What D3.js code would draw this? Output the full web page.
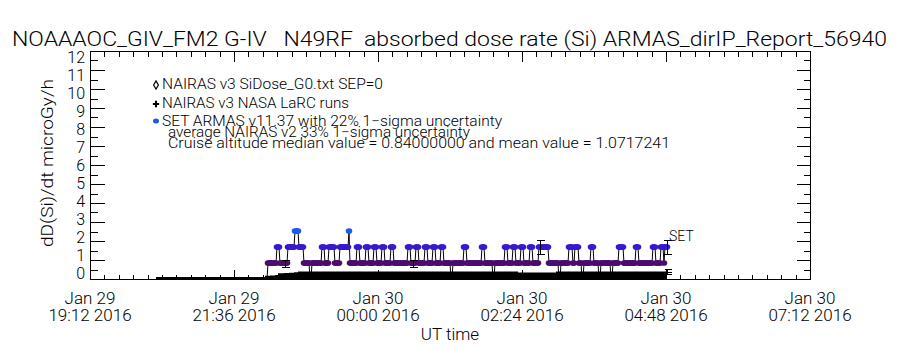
<!DOCTYPE html>
<html><head><meta charset="utf-8">
<script src="https://cdn.jsdelivr.net/npm/d3@7"></script>
<style>
body{margin:0;background:#fff}
svg{display:block}
text{font-family:Roboto,"DejaVu Sans",sans-serif;font-weight:300;fill:#000}
</style>
</head><body>
<svg id="c" width="900" height="350"></svg>
<script>
// ---------- text ----------
const titleText = "NOAAAOC_GIV_FM2 G-IV   N49RF  absorbed dose rate (Si) ARMAS_dirIP_Report_56940";
const yAxisTitle = "dD(Si)/dt microGy/h";
const xAxisTitle = "UT time";
const legendLabels = ["NAIRAS v3 SiDose_G0.txt SEP=0", "NAIRAS v3 NASA LaRC runs", "SET ARMAS v11.37 with 22% 1\u2212sigma uncertainty"];
const noteLines = ["average NAIRAS v2 33% 1\u2212sigma uncertainty", "Cruise altitude median value = 0.84000000 and mean value = 1.0717241"];
const seriesTag = "SET";

// ---------- axes ----------
const yTicks = [0,1,2,3,4,5,6,7,8,9,10,11,12];
const xDomain = ["2016-01-29T19:12", "2016-01-30T07:12"];
const xTickTimes = ["2016-01-29T19:12","2016-01-29T21:36","2016-01-30T00:00","2016-01-30T02:24","2016-01-30T04:48","2016-01-30T07:12"];
const xTickLine1 = ["Jan 29","Jan 29","Jan 30","Jan 30","Jan 30","Jan 30"];
const xTickLine2 = ["19:12 2016","21:36 2016","00:00 2016","02:24 2016","04:48 2016","07:12 2016"];

// ---------- NAIRAS v3 SiDose (step values, clock time UT) ----------
const nairasTimes  = ["20:18","22:05","22:07","22:12","22:17","22:20","22:26","22:31","22:36","22:40","02:20","02:58","04:49"];
const nairasValues = [0.10, 0.10, 0.17, 0.19, 0.21, 0.30, 0.31, 0.33, 0.36, 0.39, 0.34, 0.39, 0.39];
const nairasErrTimes = ["04:49"];

// ---------- SET ARMAS (1-min samples; base value with read-off exceptions) ----------
const armasStart = "22:09", armasEnd = "04:49";
const armasBaseValue = 0.84;
const armasRunStart = ["22:09","22:19","22:30","22:37","22:41","22:52","23:04","23:11","23:22","23:31","23:39","23:48","23:56","00:04","00:13","00:30","00:38","00:47","00:55","01:03","01:13","01:26","01:44","01:55","02:07","02:15","02:23","02:32","02:41","03:01","03:11","03:17","03:24","03:33","03:41","03:53","04:01","04:18","04:35","04:43","04:47"];
const armasRunEnd   = ["22:09","22:21","22:36","22:40","22:45","22:53","23:06","23:16","23:30","23:31","23:41","23:50","23:58","00:06","00:15","00:32","00:40","00:49","00:57","01:05","01:14","01:28","01:46","01:56","02:09","02:17","02:25","02:34","02:50","03:02","03:14","03:20","03:25","03:35","03:42","03:54","04:05","04:20","04:37","04:45","04:49"];
const armasRunValue = [0, 1.68, 1.68, 2.52, 1.68, 0, 1.68, 1.68, 1.68, 2.52, 1.68, 1.68, 1.68, 1.68, 1.68, 1.68, 1.68, 1.68, 1.68, 1.68, 0, 1.68, 1.68, 0, 1.68, 1.68, 1.68, 1.68, 1.68, 0, 1.68, 1.68, 0, 1.68, 0, 0, 1.68, 1.68, 1.68, 1.68, 1.68];
const armasErrTimes = ["22:27","00:35","02:42","04:49"];
const armasErrFrac = 0.22;
const nairasErrFrac = 0.33;

// ---------- setup ----------
const svg = d3.select("#c");
const parse = d3.utcParse("%Y-%m-%dT%H:%M");
const clk = s => parse((+s.slice(0,2) >= 12 ? "2016-01-29T" : "2016-01-30T") + s);
const x = d3.scaleUtc().domain(xDomain.map(parse)).range([90, 810]);
const y = d3.scaleLinear().domain([0, 12]).range([279, 51]);
// tick-label placement scale (labels sit slightly inside the frame ends)
const yLab = d3.scaleLinear().domain([0, 12]).range([273, 57]);
const levelColor = d3.scaleOrdinal().domain([0, 0.84, 1.68, 2.52]).range(["#000000", "#4b0c70", "#3a18d2", "#1a5af0"]);

// build ARMAS minute series
const armas = [];
for (let t = clk(armasStart); t <= clk(armasEnd); t = d3.utcMinute.offset(t, 1)) {
  let v = armasBaseValue;
  for (let i = 0; i < armasRunStart.length; i++) {
    if (t >= clk(armasRunStart[i]) && t <= clk(armasRunEnd[i])) v = armasRunValue[i];
  }
  armas.push({t, v});
}
const nairas = nairasTimes.map((s, i) => ({t: clk(s), v: nairasValues[i]}));

svg.append("defs").append("clipPath").attr("id", "plotclip")
  .append("rect").attr("x", 90).attr("y", 51).attr("width", 721).attr("height", 228.5);

// ---------- title ----------
svg.append("text").attr("x", 12).attr("y", 46).attr("font-size", 20)
  .attr("textLength", 875).attr("lengthAdjust", "spacingAndGlyphs")
  .style("white-space","pre").text(titleText);

const plot = svg.append("g").attr("clip-path", "url(#plotclip)");

// ---------- NAIRAS band ----------
plot.append("path").datum(nairas)
  .attr("d", d3.area().curve(d3.curveStepAfter).x(d => x(d.t)).y0(y(0)).y1(d => y(d.v)))
  .attr("fill", "#000");
nairasErrTimes.forEach(s => {
  const d = nairas.find(n => +n.t === +clk(s)) || nairas[nairas.length-1];
  const g = plot.append("g").attr("stroke", "#000").attr("stroke-width", 1).attr("shape-rendering","crispEdges");
  const xx = x(d.t) + 0.5;
  g.append("line").attr("x1", xx).attr("x2", xx).attr("y1", y(d.v*(1-nairasErrFrac))).attr("y2", y(d.v*(1+nairasErrFrac)));
  [d.v*(1-nairasErrFrac), d.v, d.v*(1+nairasErrFrac)].forEach(v =>
    g.append("line").attr("x1", xx-3).attr("x2", xx+4).attr("y1", Math.round(y(v))+0.5).attr("y2", Math.round(y(v))+0.5));
});

// ---------- ARMAS line + symbols ----------
plot.append("path").datum(armas)
  .attr("d", d3.line().x(d => x(d.t)).y(d => y(d.v)))
  .attr("fill", "none").attr("stroke", "#000").attr("stroke-width", 1);
plot.append("g").selectAll("ellipse").data(armas.filter(d => d.v > 0)).join("ellipse")
  .attr("cx", d => x(d.t)).attr("cy", d => y(d.v)).attr("rx", 3.3).attr("ry", 2.8)
  .attr("fill", d => levelColor(d.v));
// error bars
const eg = plot.append("g").attr("stroke", "#000").attr("stroke-width", 1).attr("shape-rendering","crispEdges");
armasErrTimes.forEach(s => {
  const d = armas.find(a => +a.t === +clk(s));
  const xx = Math.round(x(d.t)) + 0.5;
  const y1 = Math.round(y(d.v*(1+armasErrFrac))) + 0.5, y2 = Math.round(y(d.v*(1-armasErrFrac))) + 0.5;
  eg.append("line").attr("x1", xx).attr("x2", xx).attr("y1", y1).attr("y2", y2);
  eg.append("line").attr("x1", xx-4).attr("x2", xx+4).attr("y1", y1).attr("y2", y1);
  eg.append("line").attr("x1", xx-4).attr("x2", xx+4).attr("y1", y2).attr("y2", y2);
});
const last = armas[armas.length-1];
svg.append("text").attr("x", x(last.t) + 2).attr("y", y(last.v) - 6).attr("font-size", 14).text(seriesTag);

// ---------- frame & ticks ----------
const fg = svg.append("g").attr("stroke", "#000").attr("stroke-width", 1).attr("shape-rendering", "crispEdges");
fg.append("rect").attr("x", 90.5).attr("y", 51.5).attr("width", 720).attr("height", 228).attr("fill", "none");
const yMinor = d3.range(0, 12.01, 0.5);
yMinor.forEach(v => {
  const len = Number.isInteger(v) ? 14 : 7;
  const yy = Math.round(y(v)) + 0.5;
  fg.append("line").attr("x1", 90.5).attr("x2", 90.5 + len).attr("y1", yy).attr("y2", yy);
  fg.append("line").attr("x1", 810.5).attr("x2", 810.5 - len).attr("y1", yy).attr("y2", yy);
});
const x0 = parse(xDomain[0]);
for (let k = 0; k <= 50; k++) {
  const t = d3.utcSecond.offset(x0, k * 14.4 * 60);
  const len = k % 10 === 0 ? 10 : 5;
  const xx = Math.round(x(t)) + 0.5;
  fg.append("line").attr("x1", xx).attr("x2", xx).attr("y1", 279.5).attr("y2", 279.5 - len);
  fg.append("line").attr("x1", xx).attr("x2", xx).attr("y1", 51.5).attr("y2", 51.5 + len);
}

// y tick labels
svg.append("g").selectAll("text").data(yTicks).join("text")
  .attr("x", 85).attr("y", d => yLab(d)).attr("text-anchor", "end").attr("font-size", 16)
  .attr("dominant-baseline", "central").text(d => d);
// x tick labels
const xl = svg.append("g").selectAll("g").data(xTickTimes).join("g");
xl.append("text").attr("x", d => x(parse(d))).attr("y", 304).attr("text-anchor", "middle").attr("font-size", 17)
  .text((d, i) => xTickLine1[i]);
xl.append("text").attr("x", d => x(parse(d))).attr("y", 321).attr("text-anchor", "middle").attr("font-size", 17)
  .text((d, i) => xTickLine2[i]);
svg.append("text").attr("x", 450).attr("y", 340).attr("text-anchor", "middle").attr("font-size", 17).text(xAxisTitle);
svg.append("text").attr("transform", "translate(53,163) rotate(-90)").attr("text-anchor", "middle")
  .attr("font-size", 17).attr("textLength", 168).attr("lengthAdjust", "spacingAndGlyphs").text(yAxisTitle);

// ---------- legend ----------
const legY = [88.5, 107.5, 126];
const legLen = [221, 187, 340];
legendLabels.forEach((s, i) => {
  svg.append("text").attr("x", 162).attr("y", legY[i]).attr("font-size", 14)
    .attr("textLength", legLen[i]).attr("lengthAdjust", "spacingAndGlyphs").text(s);
});
svg.append("path").attr("d", d3.symbol(d3.symbolDiamond, 20)()).attr("transform", "translate(156,85)")
  .attr("fill", "none").attr("stroke", "#000").attr("stroke-width", 1.2);
svg.append("path").attr("d", d3.symbol(d3.symbolCross, 22)()).attr("transform", "translate(156,104)")
  .attr("fill", "#000");
svg.append("ellipse").attr("cx", 156).attr("cy", 121).attr("rx", 3).attr("ry", 2.5).attr("fill", levelColor(2.52));
const noteY = [137, 147.5];
const noteLen = [302, 502];
noteLines.forEach((s, i) => {
  svg.append("text").attr("x", 168).attr("y", noteY[i]).attr("font-size", 14)
    .attr("textLength", noteLen[i]).attr("lengthAdjust", "spacingAndGlyphs").text(s);
});
</script>
</body></html>
